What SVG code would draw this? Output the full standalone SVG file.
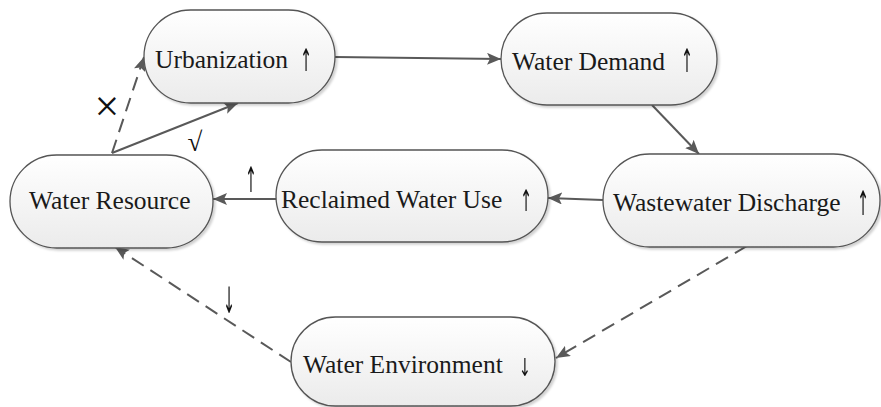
<svg xmlns="http://www.w3.org/2000/svg" width="881" height="407" viewBox="0 0 881 407">
<defs>
<linearGradient id="g" x1="0" y1="0" x2="0" y2="1">
<stop offset="0" stop-color="#ffffff"/>
<stop offset="1" stop-color="#ebebeb"/>
</linearGradient>
<filter id="sh" x="-10%" y="-10%" width="125%" height="130%">
<feDropShadow dx="2" dy="2" stdDeviation="1.2" flood-color="#000" flood-opacity="0.18"/>
</filter>
<filter id="nf" x="-50%" y="-50%" width="200%" height="200%">
<feOffset dx="0" dy="0"/>
</filter>
<marker id="ah" markerUnits="userSpaceOnUse" markerWidth="16" markerHeight="12" refX="14" refY="6" orient="auto">
<path d="M0,0 L14,6 L0,12 L3,6 Z" fill="#595959"/>
</marker>
</defs>
<style>
.node{fill:url(#g);stroke:#555;stroke-width:1.3;filter:url(#sh)}
.t{font-family:"Liberation Serif","Times New Roman",serif;font-size:25.5px;fill:#1a1a1a}
.ar{font-family:"DejaVu Sans",sans-serif;font-size:26px;fill:#111;text-anchor:middle;filter:url(#nf)}
.c{stroke:#595959;stroke-width:2;fill:none;marker-end:url(#ah)}
.d{stroke-dasharray:14 8}
.lbl{font-family:"Liberation Serif","Times New Roman",serif;fill:#111}
</style>
<rect width="881" height="407" fill="#fff"/>
<g id="connectors">
<line class="c" x1="335" y1="57" x2="501" y2="59"/>
<line class="c" x1="652" y1="105" x2="699" y2="154"/>
<line class="c" x1="603" y1="200" x2="548" y2="198"/>
<line class="c" x1="276" y1="199" x2="213" y2="199"/>
<line class="c d" x1="112" y1="153" x2="144" y2="57"/>
<line class="c" x1="112" y1="153" x2="238" y2="103"/>
<line class="c d" x1="747" y1="246" x2="556" y2="358"/>
<line class="c d" x1="291" y1="362" x2="115" y2="247"/>
</g>
<g id="labels">
<text class="lbl" x="107" y="121" font-size="44" text-anchor="middle">×</text>
<text class="lbl" x="195" y="151" font-size="27" text-anchor="middle">√</text>
<text class="ar" transform="translate(251,192) scale(0.55,1.35)">↑</text>
<text class="ar" transform="translate(229,313) scale(0.55,1.4)">↓</text>
</g>
<g id="urbanization">
<rect class="node" x="144" y="10" width="191" height="93" rx="46.5"/>
<text class="t" x="155" y="68">Urbanization</text>
<text class="ar" transform="translate(306,71) scale(0.55,1.2)">↑</text>
</g>
<g id="water-demand">
<rect class="node" x="501" y="13" width="216" height="92" rx="46"/>
<text class="t" x="512" y="70">Water Demand</text>
<text class="ar" transform="translate(687,72) scale(0.55,1.25)">↑</text>
</g>
<g id="wastewater-discharge">
<rect class="node" x="603" y="154" width="277" height="93" rx="46.5"/>
<text class="t" x="613" y="211">Wastewater Discharge</text>
<text class="ar" transform="translate(863,215) scale(0.55,1.3)">↑</text>
</g>
<g id="reclaimed-water-use">
<rect class="node" x="276" y="150" width="272" height="92" rx="46"/>
<text class="t" x="281" y="208">Reclaimed Water Use</text>
<text class="ar" transform="translate(526,211) scale(0.55,1.15)">↑</text>
</g>
<g id="water-resource">
<rect class="node" x="10" y="155" width="203" height="93" rx="46.5"/>
<text class="t" x="29" y="209">Water Resource</text>
</g>
<g id="water-environment">
<rect class="node" x="291" y="317" width="264" height="89" rx="44.5"/>
<text class="t" x="303" y="373">Water Environment</text>
<text class="ar" transform="translate(525,376) scale(0.55,0.95)">↓</text>
</g>
</svg>
